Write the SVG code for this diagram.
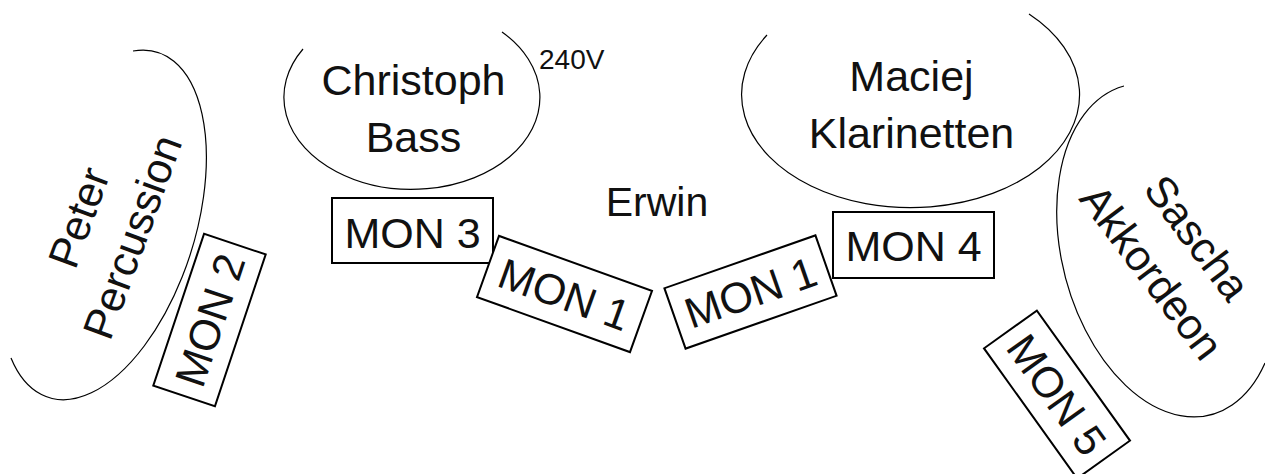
<svg xmlns="http://www.w3.org/2000/svg" width="1265" height="474" viewBox="0 0 1265 474">
<style>
.area{fill:none;stroke:#000;stroke-width:1.2}
.mon{fill:#fff;stroke:#000;stroke-width:2}
text{font-family:"Liberation Sans",Arial,sans-serif;fill:#111;font-size:43px}
.c{text-anchor:middle}
</style>
<rect width="1265" height="474" fill="#fff"/>
<g id="peter">
<path class="area" d="M133,51 A92,181 17.5 1 1 11,358"/>
<g transform="translate(105,227) rotate(-70)">
<text class="c" x="0" y="-13">Peter</text>
<text class="c" x="0" y="44">Percussion</text>
</g>
</g>
<g id="christoph">
<path class="area" d="M303,49 A128,92 0 1 0 502,32"/>
<text class="c" x="413.5" y="95">Christoph</text>
<text class="c" x="413.5" y="152">Bass</text>
</g>
<g id="power">
<text x="539" y="69" style="font-size:28px">240V</text>
</g>
<g id="maciej">
<path class="area" d="M767,35 A169,113 0 1 0 1029,14"/>
<text class="c" x="911.5" y="91">Maciej</text>
<text class="c" x="911.5" y="148">Klarinetten</text>
</g>
<g id="sascha">
<path class="area" d="M1124,86 A106,170 -14.6 1 0 1265,363"/>
<g transform="translate(1175,254.5) rotate(53)">
<text class="c" x="0" y="-13">Sascha</text>
<text class="c" x="0" y="44">Akkordeon</text>
</g>
</g>
<g id="erwin">
<text class="c" x="657" y="216" style="font-size:41px">Erwin</text>
</g>
<g id="mon3">
<rect class="mon" x="332" y="198" width="161" height="65"/>
<text class="c" x="412.5" y="248">MON 3</text>
</g>
<g id="mon4">
<rect class="mon" x="833" y="212" width="161" height="66"/>
<text class="c" x="913.5" y="261">MON 4</text>
</g>
<g id="mon1-left" transform="translate(564.5,294) rotate(19.8)">
<rect class="mon" x="-81.3" y="-32.5" width="162.6" height="65"/>
<text class="c" x="0" y="15.4">MON 1</text>
</g>
<g id="mon1-right" transform="translate(750.5,292) rotate(-19.3)">
<rect class="mon" x="-80" y="-32" width="160" height="64"/>
<text class="c" x="0" y="15.4">MON 1</text>
</g>
<g id="mon2" transform="translate(209.5,320) rotate(-71.5)">
<rect class="mon" x="-80" y="-32.5" width="160" height="65"/>
<text class="c" x="0" y="15.4">MON 2</text>
</g>
<g id="mon5" transform="translate(1057,394.5) rotate(54.4)">
<rect class="mon" x="-80" y="-32.5" width="160" height="65"/>
<text class="c" x="0" y="15.4">MON 5</text>
</g>
<g id="connectors"/>
</svg>
